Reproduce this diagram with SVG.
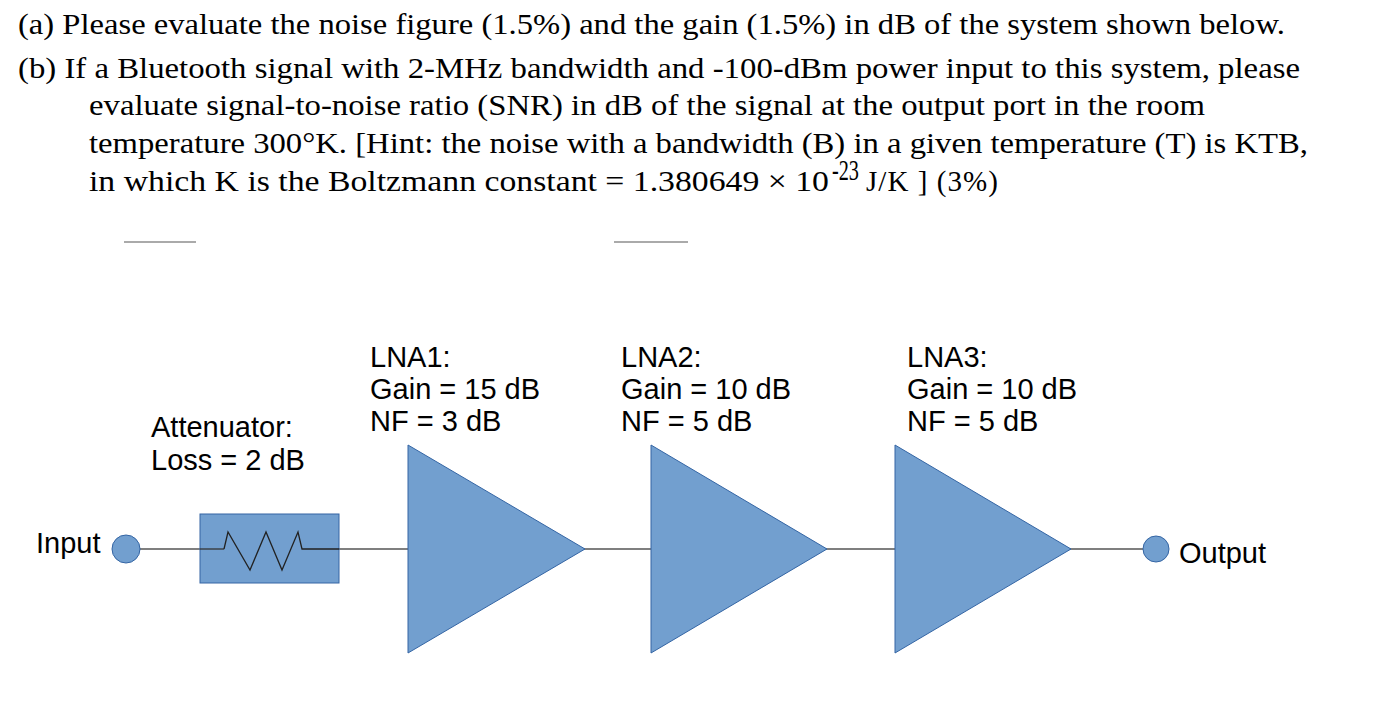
<svg xmlns="http://www.w3.org/2000/svg" width="1373" height="705" viewBox="0 0 1373 705">
<style>
.q{font-family:"Liberation Serif",serif;font-size:29px;fill:#000}
.l{font-family:"Liberation Sans",sans-serif;font-size:29px;fill:#000}
.sh{fill:#729fcf;stroke:#3465a4;stroke-width:1}
.w{stroke:#555;stroke-width:1.3;fill:none}
</style>
<rect width="1373" height="705" fill="#fff"/>
<g id="question">
<text class="q" x="18" y="34" textLength="1267" lengthAdjust="spacingAndGlyphs">(a) Please evaluate the noise figure (1.5%) and the gain (1.5%) in dB of the system shown below.</text>
<text class="q" x="18" y="78" textLength="1282" lengthAdjust="spacingAndGlyphs">(b) If a Bluetooth signal with 2-MHz bandwidth and -100-dBm power input to this system, please</text>
<text class="q" x="89" y="115" textLength="1116" lengthAdjust="spacingAndGlyphs">evaluate signal-to-noise ratio (SNR) in dB of the signal at the output port in the room</text>
<text class="q" x="89" y="153" textLength="1219" lengthAdjust="spacingAndGlyphs">temperature 300°K. [Hint: the noise with a bandwidth (B) in a given temperature (T) is KTB,</text>
<text class="q" x="89" y="191" textLength="740" lengthAdjust="spacingAndGlyphs">in which K is the Boltzmann constant = 1.380649 × 10</text>
<text class="q" x="832" y="180" font-size="18" textLength="27" lengthAdjust="spacingAndGlyphs">-23</text>
<text class="q" x="866" y="191" textLength="132" lengthAdjust="spacing">J/K  ]  (3%)</text>
<line x1="124" y1="242" x2="196" y2="242" stroke="#aaa" stroke-width="2"/>
<line x1="614" y1="242" x2="688" y2="242" stroke="#aaa" stroke-width="2"/>
</g>
<g id="connectors">
<line class="w" x1="140" y1="549" x2="1143" y2="549"/>
</g>
<g id="input"><circle class="sh" cx="126" cy="549" r="14"/><text class="l" x="36" y="553">Input</text></g>
<g id="attenuator">
<rect class="sh" x="200" y="514" width="139" height="69"/>
<line x1="200" y1="549" x2="224" y2="549" stroke="#333" stroke-width="1.3"/>
<polyline points="224,549 228,532 250,570 266,532 282,570 298,532 302,549 339,549" fill="none" stroke="#222" stroke-width="1.3"/>
<text class="l" x="151" y="437">Attenuator:</text><text class="l" x="151" y="470">Loss = 2 dB</text>
</g>
<g id="lna1"><polygon class="sh" points="408,445 585,549 408,653"/>
<text class="l" x="370" y="367">LNA1:</text><text class="l" x="370" y="399">Gain = 15 dB</text><text class="l" x="370" y="431">NF = 3 dB</text></g>
<g id="lna2"><polygon class="sh" points="651,445 827,549 651,653"/>
<text class="l" x="621" y="367">LNA2:</text><text class="l" x="621" y="399">Gain = 10 dB</text><text class="l" x="621" y="431">NF = 5 dB</text></g>
<g id="lna3"><polygon class="sh" points="895,445 1071,549 895,653"/>
<text class="l" x="907" y="367">LNA3:</text><text class="l" x="907" y="399">Gain = 10 dB</text><text class="l" x="907" y="431">NF = 5 dB</text></g>
<g id="output"><circle class="sh" cx="1156" cy="549" r="13"/><text class="l" x="1179" y="563">Output</text></g>
</svg>
